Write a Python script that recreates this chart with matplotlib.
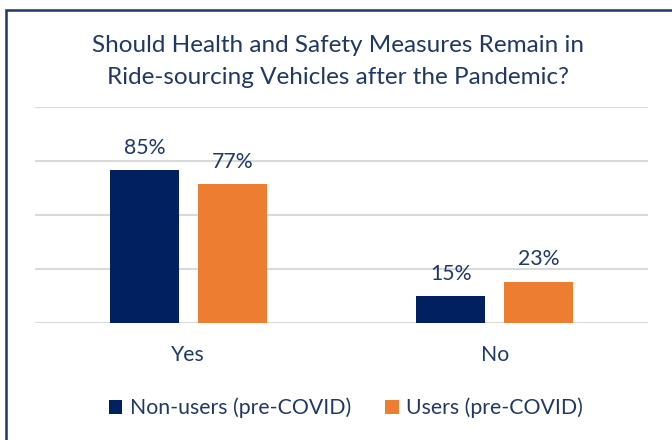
import numpy as np
import matplotlib
matplotlib.use("Agg")
from matplotlib import pyplot as plt
from matplotlib.patches import Rectangle

categories = ["Yes", "No"]
non_users = [0.85, 0.15]
users = [0.77, 0.23]
series_names = ["Non-users (pre-COVID)", "Users (pre-COVID)"]

navy = "#002060"
orange = "#ED7D31"
text_col = "#1F3864"

plt.rcParams['font.family'] = ['Lato', 'DejaVu Sans']

fig = plt.figure(figsize=(6.72, 4.40), dpi=100)
ax = fig.add_axes([35/672, 1-323/440, 613/672, 216/440])

x = np.arange(len(categories))
w = 0.225
off = 0.1435
b1 = ax.bar(x - off, non_users, w, color=navy, label=series_names[0], zorder=3)
b2 = ax.bar(x + off, users, w, color=orange, label=series_names[1], zorder=3)

for bars, vals in [(b1, non_users), (b2, users)]:
    for r, v in zip(bars, vals):
        ax.annotate("{:.0%}".format(v), (r.get_x() + r.get_width()/2, v),
                    xytext=(0, 9), textcoords="offset points",
                    ha="center", va="bottom", fontsize=15.3, color=text_col)

ax.set_xlim(-0.5, 1.5)
ax.set_ylim(0, 1.2)
ax.set_yticks(np.arange(0, 1.21, 0.3))
ax.yaxis.grid(True, color="#D9D9D9", linewidth=1.5, zorder=0)
ax.tick_params(left=False, bottom=False, labelleft=False)
ax.set_xticks(x)
ax.set_xticklabels(categories, fontsize=15.3, color=text_col)
ax.tick_params(axis="x", pad=12)
for s in ax.spines.values():
    s.set_visible(False)

fig.text(338/672, 1-45/440, "Should Health and Safety Measures Remain in",
         ha="center", va="center", fontsize=17.5, color=text_col)
fig.text(338/672, 1-77/440, "Ride-sourcing Vehicles after the Pandemic?",
         ha="center", va="center", fontsize=17.5, color=text_col)

fig.legend(loc="center", bbox_to_anchor=(346/672, 1-408/440), ncol=2,
           frameon=False, fontsize=15.3, handlelength=0.65, handleheight=0.65,
           handletextpad=0.35, columnspacing=1.6, labelcolor=text_col)

# outer border (top and left visible)
fig.patches.append(Rectangle((6/672, -0.1), 1.2, 1-10/440 + 0.1,
                             transform=fig.transFigure, fill=False,
                             edgecolor="#1F3864", linewidth=1.8))

fig.savefig("out.png", dpi=100)
